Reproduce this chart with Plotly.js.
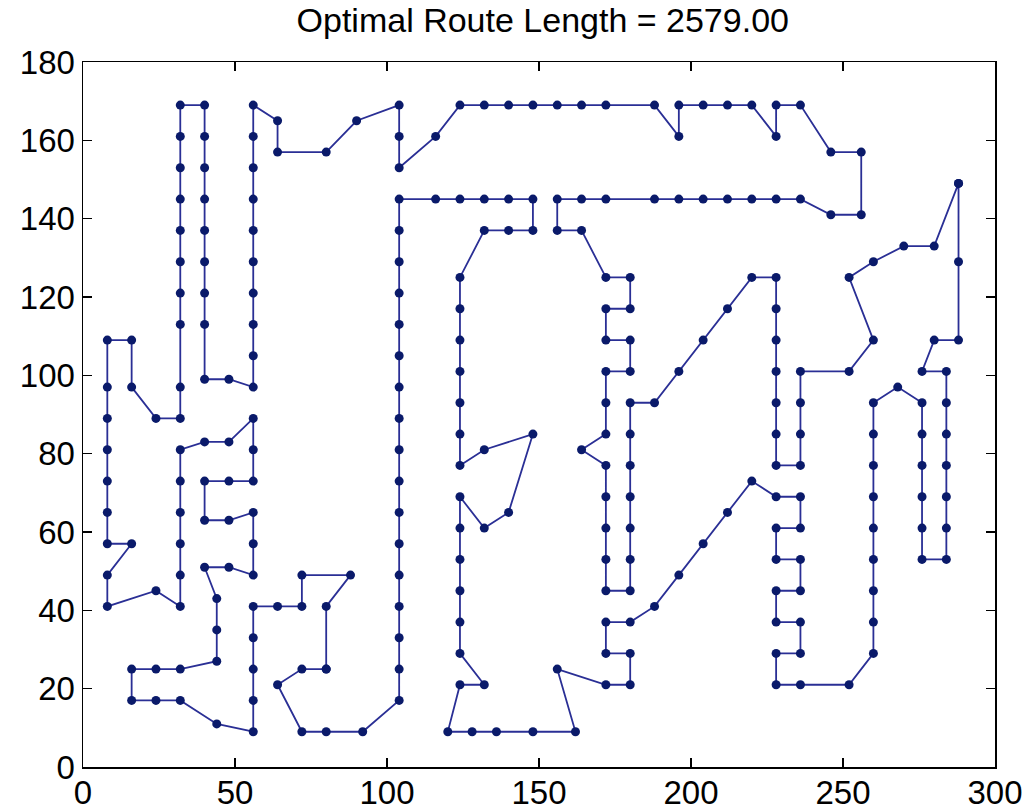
<!DOCTYPE html>
<html>
<head>
<meta charset="utf-8">
<script src="https://cdn.plot.ly/plotly-3.0.1.min.js"></script>
<style>
html,body{margin:0;padding:0;background:#fff;}
#chart{width:1026px;height:811px;}
</style>
</head>
<body>
<div id="chart"></div>
<script>
const chartTitle = "Optimal Route Length = 2579.00";
const xTicks = [0, 50, 100, 150, 200, 250, 300];
const yTicks = [0, 20, 40, 60, 80, 100, 120, 140, 160, 180];

// Route (tour order) city coordinates
const routeX = [
288,280,270,260,252,260,252,236,236,236,236,228,228,228,228,228,228,228,220,212,
204,196,188,180,180,180,180,180,180,180,172,172,172,172,172,164,172,172,172,180,
180,172,172,180,180,172,164,156,156,164,172,188,196,204,212,220,228,236,246,256,
256,246,236,228,228,220,212,204,196,196,188,172,164,156,148,140,132,124,116,104,
104,104,90,80,64,64,56,56,56,56,56,56,56,56,56,56,48,40,40,40,
40,40,40,40,40,40,32,32,32,32,32,32,32,32,32,32,24,16,16,8,
8,8,8,8,8,8,16,8,8,24,32,32,32,32,32,32,40,48,56,56,
56,48,40,40,48,56,56,56,48,40,44,44,44,32,24,16,16,24,32,44,
56,56,56,56,56,64,72,72,88,80,80,80,72,64,72,80,92,104,104,104,
104,104,104,104,104,104,104,104,104,104,104,104,104,104,116,124,132,140,148,148,
140,132,124,124,124,124,124,124,124,132,148,140,132,124,124,124,124,124,124,132,
124,120,128,136,148,162,156,172,180,180,172,172,180,188,196,204,212,220,228,236,
236,228,228,236,236,228,228,236,236,228,228,236,252,260,260,260,260,260,260,260,
260,260,268,276,276,276,276,276,276,284,284,284,284,284,284,284,276,280,288,288
];
const routeY = [
149,133,133,129,125,109,101,101,93,85,77,77,85,93,101,109,117,125,125,117,
109,101,93,93,85,77,69,61,53,45,45,53,61,69,77,81,85,93,101,101,
109,109,117,117,125,125,137,137,145,145,145,145,145,145,145,145,145,145,141,141,
157,157,169,169,161,169,169,169,169,161,169,169,169,169,169,169,169,169,161,153,
161,169,165,157,157,165,169,161,153,145,137,129,121,113,105,97,99,99,113,121,
129,137,145,153,161,169,169,161,153,145,137,129,121,113,97,89,89,97,109,109,
97,89,81,73,65,57,57,49,41,45,41,49,57,65,73,81,83,83,89,81,
73,73,73,63,63,65,57,49,51,51,43,35,27,25,25,25,17,17,17,11,
9,17,25,33,41,41,41,49,49,41,25,25,25,21,9,9,9,17,25,33,
41,49,57,65,73,81,89,97,105,113,121,129,137,145,145,145,145,145,145,137,
137,137,125,117,109,101,93,85,77,81,85,65,61,69,61,53,45,37,29,21,
21,9,9,9,9,9,25,21,21,29,29,37,37,41,49,57,65,73,69,69,
61,61,53,53,45,45,37,37,29,29,21,21,21,29,37,45,53,61,69,77,
85,93,97,93,85,77,69,61,53,53,61,69,77,85,93,101,101,109,109,129
];

const xs = routeX.concat([routeX[0]]);
const ys = routeY.concat([routeY[0]]);

const trace = {
  x: xs, y: ys,
  type: 'scatter',
  mode: 'lines+markers',
  line: {color: '#2a2f95', width: 1.8},
  marker: {color: '#0a1a6a', size: 9},
  hoverinfo: 'x+y'
};

const axisCommon = {
  showgrid: false, zeroline: false,
  showline: true, linecolor: '#000', linewidth: 1.5, mirror: 'ticks',
  ticks: 'inside', ticklen: 9, tickcolor: '#000', tickwidth: 1.5,
  tickfont: {family: 'Liberation Sans, Arial, sans-serif', size: 33, color: '#000'},
  automargin: false
};

const layout = {
  width: 1026, height: 811,
  margin: {l: 83, r: 31, t: 62, b: 44},
  paper_bgcolor: '#fff', plot_bgcolor: '#fff',
  showlegend: false,
  title: {
    text: chartTitle,
    font: {family: 'Liberation Sans, Arial, sans-serif', size: 34, color: '#000'},
    x: 0.529, xanchor: 'center', y: 0.975, yanchor: 'middle'
  },
  xaxis: Object.assign({}, axisCommon, {range: [0, 300], tickvals: xTicks, ticktext: xTicks.map(String), ticklabelstandoff: -4}),
  yaxis: Object.assign({}, axisCommon, {range: [0, 180], tickvals: yTicks, ticktext: yTicks.map(String)})
};

Plotly.newPlot('chart', [trace], layout, {displayModeBar: false, staticPlot: true});
</script>
</body>
</html>
